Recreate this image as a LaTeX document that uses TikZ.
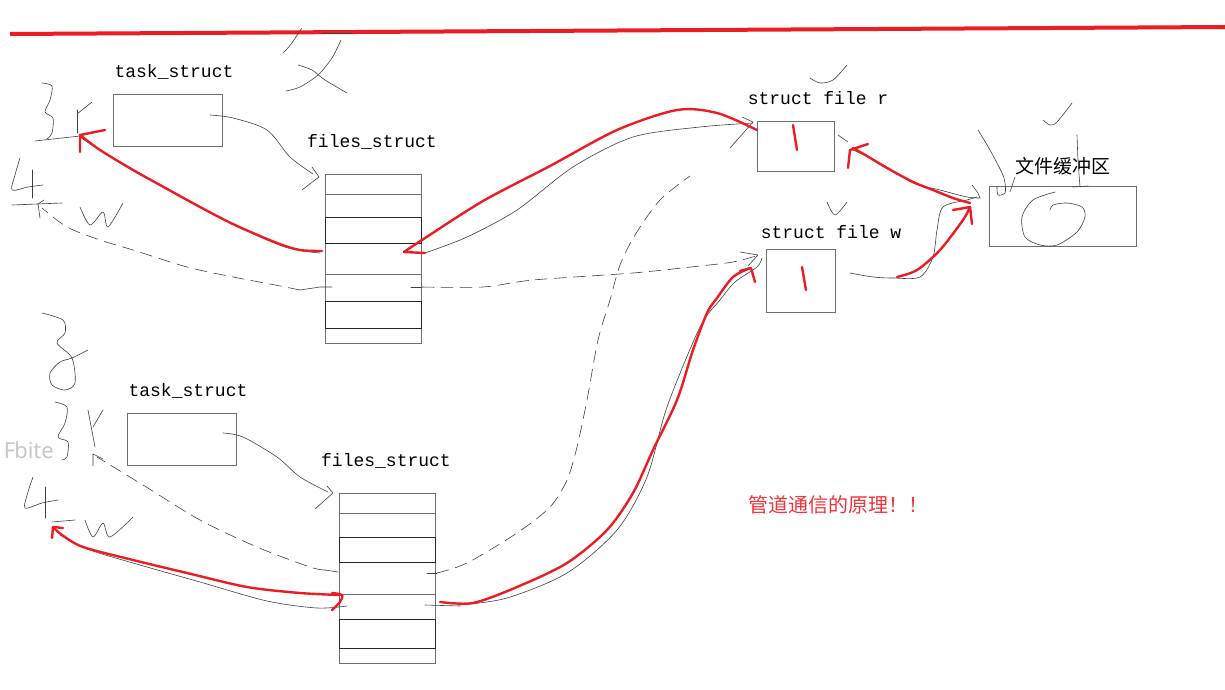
\documentclass[tikz,border=0pt]{standalone}
\usepackage{fontspec}
\setmainfont{Liberation Mono}
\newfontfamily\cjk{Noto Sans CJK SC}
\newfontfamily\wmfont{Noto Sans}
\definecolor{penred}{RGB}{236,28,36}
\definecolor{boxgray}{RGB}{110,110,110}
\begin{document}
\begin{tikzpicture}[x=1pt,y=-1pt,
  box/.style={draw=boxgray, line width=0.8pt, inner sep=0pt},
  darkrow/.style={draw=black!85, line width=0.9pt},
  rowline/.style={draw=boxgray, line width=0.8pt},
  lab/.style={font=\fontsize{18}{20}\selectfont, inner sep=0pt, text=black},
  pen/.style={draw=black!75, line width=0.6pt, line cap=round, line join=round},
  dashpen/.style={pen, dash pattern=on 12pt off 7pt},
  redpen/.style={draw=penred, line width=2.4pt, line cap=round, line join=round}]
\useasboundingbox (0,0) rectangle (1225,690);
\fill[white] (0,0) rectangle (1225,690);

% top red rule
\draw[penred, line width=4pt] (10,34) -- (1225,27);

% ---------- boxes ----------
\node[box, minimum width=109pt, minimum height=52pt] (task1) at (167.5,120) {};
\node[box, minimum width=109pt, minimum height=52pt] (task2) at (181.5,439) {};
\node[box, minimum width=96pt, minimum height=169pt] (fs1) at (373,258.5) {};
\node[box, minimum width=96pt, minimum height=170pt] (fs2) at (387,578) {};
\node[box, minimum width=77pt, minimum height=50pt] (filer) at (795.5,146) {};
\node[box, minimum width=69pt, minimum height=63pt] (filew) at (800.5,280.5) {};
\node[box, minimum width=147pt, minimum height=60pt] (buf) at (1062.5,216) {};

% rows of files_struct
\draw[rowline] (325,194) -- (421,194) (325,274) -- (421,274);
\draw[darkrow] (325,217) rectangle (421,243) (325,301) rectangle (421,328);
\draw[rowline] (339,513) -- (435,513) (339,594) -- (435,594);
\draw[darkrow] (339,537) rectangle (435,562) (339,619) rectangle (435,648);

% ---------- labels ----------
\node[lab] (l1) at (174,72) {task\_struct};
\node[lab] (l2) at (372,142) {files\_struct};
\node[lab] (l3) at (188,391) {task\_struct};
\node[lab] (l4) at (386,461) {files\_struct};
\node[lab] (l5) at (818,98) {struct file r};
\node[lab] (l6) at (831,232) {struct file w};
\node[inner sep=0pt, font=\cjk\fontsize{19}{21}\selectfont, text=black] (l7) at (1063,166) {文件缓冲区};
\node[inner sep=0pt, font=\cjk\fontsize{20}{22}\selectfont, text=penred!90] (l8) at (838,505) {管道通信的原理！！};
\node[inner sep=0pt, font=\wmfont\fontsize{22}{24}\selectfont, text=black!22, anchor=east] (wm) at (54,450) {F\kern-1pt bite};

% ---------- handwriting scribbles ----------
% "文"-like mark at top
\draw[pen] (283,53) .. controls (292,45) and (296,36) .. (302,28);
\draw[pen] (322,33) -- (352,33);
\draw[pen] plot[smooth] coordinates {(298,65) (312,70) (325,80) (347,93)};
\draw[pen] plot[smooth] coordinates {(341,40) (332,58) (318,75) (300,87) (286,91)};
% top-left "3 r"
\draw[pen] plot[smooth] coordinates {(42,83) (52,86) (50,100) (45,112) (53,118) (52,133) (47,139)};
\draw[pen] (77,110) -- (77,133);
\draw[pen] (77,114) -- (92,102);
% "4 <- w"
\draw[pen] plot[smooth] coordinates {(20,158) (15,175) (12,190) (28,187) (43,185)};
\draw[pen] (32,170) -- (32,198);
\draw[pen] (12,205) -- (62,203);
\draw[pen] (44,200) -- (38,204) -- (40,218);
\draw[pen] plot[smooth] coordinates {(80,207) (90,225) (103,212) (108,227) (123,203)};
% bottom-left "2", "3 r", "4 <- w"
\draw[pen] plot[smooth] coordinates {(42,313) (63,320) (65,333) (57,343) (72,358) (75,383) (65,390) (52,385) (50,373) (60,362) (72,358) (88,350)};
\draw[pen] plot[smooth] coordinates {(55,402) (67,407) (65,423) (58,437) (68,442) (67,457) (62,460)};
\draw[pen] (88,410) -- (95,447);
\draw[pen] (93,427) -- (103,410);
\draw[pen] (93,466) -- (93,454) -- (103,459);
\draw[pen] plot[smooth] coordinates {(33,477) (28,492) (25,508) (42,503) (58,500)};
\draw[pen] (45,487) -- (45,518);
\draw[pen] (52,522) -- (75,520);
\draw[pen] plot[smooth] coordinates {(85,520) (93,537) (103,523) (110,537) (133,517)};

% ---------- task_struct -> files_struct ----------
\coordinate (t1o) at (210,115);
\coordinate (t2o) at (223,433);
\draw[pen] plot[smooth] coordinates {(t1o) (233,118) (267,130) (290,157) (313,174)};
\draw[pen] (312,167) -- (319,177) -- (302,190);
\draw[pen] plot[smooth] coordinates {(t2o) (243,437) (277,457) (300,477) (328,492)};
\draw[pen] (327,486) -- (333,493) -- (315,509);

% ---------- fd 3 (read) of top process ----------
\draw[pen] plot[smooth] coordinates {(320,253) (285,247) (230,223) (170,190) (120,162) (95,147) (80,137)};
\draw[pen] (35,141) -- (80,136) -- (100,131);
\draw[redpen] plot[smooth] coordinates {(322,251) (300,250) (277,243) (235,225) (200,207) (160,185) (133,170) (100,150) (80,135)};
\draw[redpen] (80,152) -- (80,135) -- (105,130);
% fd 4 (write) of top process, dashed back to "4"
\draw[pen] (300,290) -- (320,287) -- (332,287);
\draw[dashpen] plot[smooth] coordinates {(300,290) (270,284) (233,277) (187,267) (133,250) (100,240) (67,227) (42,208)};

% ---------- top files_struct -> struct file r ----------
\draw[pen] plot[smooth] coordinates {(425,253) (467,237) (517,210) (573,167) (633,137) (700,127) (753,123)};
\draw[pen] (742,117) -- (753,122) -- (730,148);
\draw[redpen] (425,253) -- (404,252);
\draw[redpen] plot[smooth] coordinates {(404,252) (422,240) (483,201) (550,166) (617,130) (677,110) (717,113) (757,130)};
% red "1"
\draw[redpen] (793,125) -- (797,150);

% ---------- top files_struct -> struct file w (dashed) ----------
\draw[pen] (411,287) -- (422,287);
\draw[dashpen] plot[smooth] coordinates {(422,287) (483,287) (533,280) (633,273) (700,266) (733,262) (756,256)};
\draw[pen] (740,252) -- (758,255) -- (748,266);

% ---------- bottom process ----------
% fd 3 dashed from bottom files_struct to "3 r"
\draw[pen] (338,572) -- (325,570);
\draw[dashpen] plot[smooth] coordinates {(325,570) (310,567) (257,547) (200,520) (143,485) (97,457)};
% fd 4 red arrow back to "4 w"
\draw[pen] plot[smooth] coordinates {(347,606) (317,608) (267,601) (200,582) (140,565) (90,550) (60,535)};
\draw[redpen] plot[smooth] coordinates {(340,595) (300,593) (247,587) (187,573) (133,560) (83,547) (62,535) (53,527)};
\draw[redpen] (52,538) -- (53,527) -- (63,528);
\draw[redpen] plot[smooth] coordinates {(332,593) (342,595) (340,602) (332,610)};

% bottom files_struct -> struct file r (dashed)
\draw[pen] (427,573) -- (437,573);
\draw[dashpen] plot[smooth] coordinates {(437,573) (467,563) (517,533) (550,507) (567,480) (577,447) (587,400) (598,340) (610,300) (620,265) (635,235) (660,200) (690,176)};

% bottom files_struct -> struct file w (red)
\draw[pen] (425,605) -- (460,606);
\draw[pen] plot[smooth] coordinates {(460,605) (507,598) (567,573) (617,530) (647,477) (667,407) (700,327) (720,300) (735,282) (757,267) (762,258)};
\draw[redpen] plot[smooth] coordinates {(440,602) (473,603) (517,587) (567,563) (607,530) (633,493) (653,450) (677,400) (693,350) (707,313) (717,298) (733,277) (750,268)};
\draw[redpen] (740,271) -- (751,268) -- (755,282);
% red "1"
\draw[redpen] (802,267) -- (806,290);

% ---------- struct file w -> buffer ----------
\draw[pen] plot[smooth] coordinates {(850,273) (873,277) (893,278) (920,277) (933,257) (937,230) (943,207) (967,200) (977,197)};
\draw[redpen] plot[smooth] coordinates {(897,277) (917,270) (940,250) (963,220) (970,207)};
\draw[redpen] (953,210) -- (970,207) -- (972,224);

% ---------- buffer -> struct file r ----------
\draw[pen] plot[smooth] coordinates {(853,150) (880,163) (913,183) (940,190) (967,197) (980,198)};
\draw[pen] (972,185) -- (978,193) -- (980,198);
\draw[pen] (838,135) -- (848,142);
\draw[redpen] plot[smooth] coordinates {(970,203) (953,198) (933,190) (913,182) (887,168) (867,156) (853,148)};
\draw[redpen] (848,168) -- (850,150) -- (868,144);

% ---------- scribbles around the buffer ----------
\draw[pen] plot[smooth] coordinates {(810,78) (820,83) (833,80) (847,65)};
\draw[pen] plot[smooth] coordinates {(1043,120) (1050,125) (1057,122) (1072,103)};
\draw[pen] plot[smooth] coordinates {(827,202) (835,215) (847,202)};
\draw[pen] plot[smooth] coordinates {(978,130) (990,150) (1002,173) (1005,183) (1005,193) (998,195) (997,187)};
\draw[pen] (1015,177) -- (1010,192);
\draw[pen] plot[smooth] coordinates {(1077,135) (1078,160) (1080,187)};
\draw[pen] (1073,187) -- (1088,186);
\draw[pen] plot[smooth] coordinates {(1055,192) (1033,200) (1022,217) (1025,237) (1040,245) (1057,245) (1077,232) (1085,217) (1082,207) (1067,203) (1053,205) (1050,210)};
\end{tikzpicture}
\end{document}
